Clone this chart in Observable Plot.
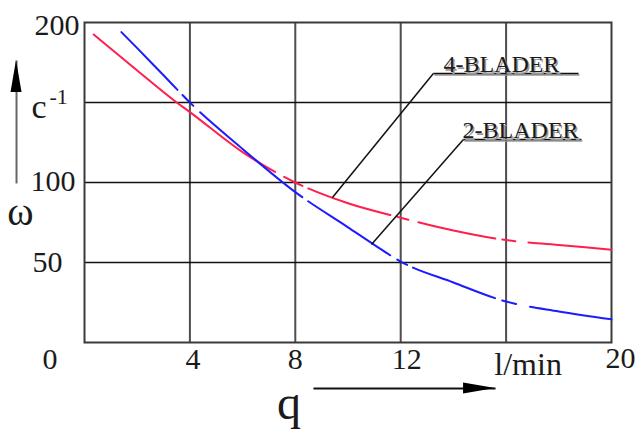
<!DOCTYPE html>
<html><head><meta charset="utf-8">
<script src="https://cdn.jsdelivr.net/npm/d3@7"></script>
<script src="https://cdn.jsdelivr.net/npm/@observablehq/plot@0.6"></script>
<style>body{margin:0;background:#fff}</style>
</head><body><div id="chart"></div>
<script>
// ---- data ----
const q4 = [0.35, 2, 3.5, 4, 6, 8, 10, 12, 14, 16, 18, 20];
const w4 = [192.5, 170, 150, 144, 119, 100, 87, 78, 70, 64, 61, 58];
const q2 = [1.4, 2, 3, 4, 6, 8, 10, 11, 12, 14, 16, 18, 20];
const w2 = [194, 184, 167, 150, 121, 94, 72, 61, 50.6, 37.5, 25.6, 19.4, 14.5];
const xGrid = [4, 8, 12, 16];
const yGrid = [50, 100, 150];
const xTickValues = [0, 4, 8, 12, 16, 20];
const xTickLabels = ["0", "4", "8", "12", "l/min", "20"];
const yTickValues = [200, 100, 50];
const yTickLabels = ["200", "100", "50"];
const seriesNames = ["4-BLADER", "2-BLADER"];
const leaderFromQ = [9.41, 10.89];
const leaderFromW = [90.6, 61.25];
const leaderToQ = [13.24, 14.38];
const leaderToW = [168.1, 126.9];
const underlineEndQ = [18.75, 18.86];
const nameQ = [13.62, 14.35];
const arrowX1 = [-2.58, 8.69], arrowY1 = [99.4, -28.75];
const arrowX2 = [-2.58, 15.6], arrowY2 = [176.25, -28.75];

// ---- styles ----
const font = "Liberation Serif, 'Times New Roman', serif";
const ink = "#1b1b1b";
const xLabelDx = [-34.5, 3, 0, 6, 22, 9];
const xLabelDy = [17, 17, 17, 17, 22, 16];
const xLabelSize = [30, 30, 30, 30, 32, 30];
const yLabelDx = [-5, -9, -22];
const yLabelDy = [3, -1, 0];
const headLen = 32, headHalf = 5.5;

const red = q4.map((q, i) => ({q, w: w4[i]}));
const blue = q2.map((q, i) => ({q, w: w2[i]}));
const idx = seriesNames.map((_, i) => i);

const marks = [
  Plot.ruleX(xGrid, {stroke: "#4d4d4d", strokeWidth: 2}),
  Plot.ruleY(yGrid, {stroke: "#111", strokeWidth: 1.5}),
  Plot.frame({stroke: "#3a3a3a", strokeWidth: 2}),
  Plot.line(red, {x: "q", y: "w", stroke: "#ff1f4f", strokeWidth: 2, curve: "monotone-x",
    strokeDasharray: "227.7,10.4,20.3,6.4,86.5,7.3,11.3,10.3,78.7,7.1,13.1,13.1,200"}),
  Plot.line(blue, {x: "q", y: "w", stroke: "#1c1cff", strokeWidth: 2, curve: "monotone-x",
    strokeDasharray: "80.4,7.2,15.4,9.3,132.9,7.2,98.2,8.3,11.1,6.5,87.6,7.5,14.4,14.2,200"}),
  // leaders
  Plot.link(idx, {x1: i => leaderFromQ[i], y1: i => leaderFromW[i], x2: i => leaderToQ[i], y2: i => leaderToW[i], stroke: "#111", strokeWidth: 1.5}),
  Plot.link(idx, {x1: i => leaderToQ[i], y1: i => leaderToW[i], x2: i => underlineEndQ[i], y2: i => leaderToW[i], stroke: "#999", strokeWidth: 1.5, dx: 1, dy: 1.5}),
  Plot.link(idx, {x1: i => leaderToQ[i], y1: i => leaderToW[i], x2: i => underlineEndQ[i], y2: i => leaderToW[i], stroke: "#111", strokeWidth: 1.5}),
  Plot.text(idx, {x: i => nameQ[i], y: i => leaderToW[i], text: i => seriesNames[i], textAnchor: "start", lineAnchor: "middle", dx: 1.5, dy: -7.5, fontSize: 24, fontFamily: font, fill: "#9a9a9a"}),
  Plot.text(idx, {x: i => nameQ[i], y: i => leaderToW[i], text: i => seriesNames[i], textAnchor: "start", lineAnchor: "middle", dy: -9, fontSize: 24, fontFamily: font, fill: ink}),
  // axis arrow shafts
  Plot.link([0, 1], {x1: i => arrowX1[i], y1: i => arrowY1[i], x2: i => arrowX2[i], y2: i => arrowY2[i], stroke: i => i === 0 ? "#666" : "#111", strokeWidth: 2}),
  // axis titles
  Plot.text(["c"], {frameAnchor: "top-left", text: d => d, textAnchor: "start", lineAnchor: "middle", dx: -53, dy: 85, fontSize: 34, fontFamily: font, fill: ink}),
  Plot.text(["-1"], {frameAnchor: "top-left", text: d => d, textAnchor: "start", lineAnchor: "middle", dx: -35, dy: 74, fontSize: 22, fontFamily: font, fill: ink}),
  Plot.text(["ω"], {frameAnchor: "top-left", text: d => d, textAnchor: "middle", lineAnchor: "middle", dx: -64, dy: 190, fontSize: 40, fontFamily: font, fill: ink}),
  Plot.text(["q"], {frameAnchor: "top-left", text: d => d, textAnchor: "middle", lineAnchor: "middle", dx: 204.5, dy: 381, fontSize: 48, fontFamily: font, fill: ink}),
  // tick labels
  ...xTickLabels.map((t, i) => Plot.text([t], {x: () => xTickValues[i], frameAnchor: "bottom", text: d => d, textAnchor: "middle", lineAnchor: "middle", dx: xLabelDx[i], dy: xLabelDy[i], fontSize: xLabelSize[i], fontFamily: font, fill: ink})),
  ...yTickLabels.map((t, i) => Plot.text([t], {y: () => yTickValues[i], frameAnchor: "left", text: d => d, textAnchor: "end", lineAnchor: "middle", dx: yLabelDx[i], dy: yLabelDy[i], fontSize: 30, fontFamily: font, fill: ink}))
];

const plot = Plot.plot({
  width: 639, height: 430,
  marginLeft: 84, marginRight: 28, marginTop: 22, marginBottom: 88,
  x: {domain: [0, 20], axis: null},
  y: {domain: [0, 200], axis: null},
  style: {fontFamily: font, background: "#fff", overflow: "visible"},
  marks
});

// filled arrowheads placed through the plot's own scales
const sx = plot.scale("x"), sy = plot.scale("y");
const svg = d3.select(plot);
[0, 1].forEach(i => {
  const ax = sx.apply(arrowX1[i]), ay = sy.apply(arrowY1[i]);
  const bx = sx.apply(arrowX2[i]), by = sy.apply(arrowY2[i]);
  const L = Math.hypot(bx - ax, by - ay), ux = (bx - ax) / L, uy = (by - ay) / L;
  const cx = bx - ux * headLen, cy = by - uy * headLen;
  const pts = [[bx, by], [cx - uy * headHalf, cy + ux * headHalf], [cx + uy * headHalf, cy - ux * headHalf]];
  svg.append("path").attr("d", "M" + pts.map(p => p.join(",")).join("L") + "Z").attr("fill", "#000");
});

document.getElementById("chart").appendChild(plot);
</script>
</body></html>
